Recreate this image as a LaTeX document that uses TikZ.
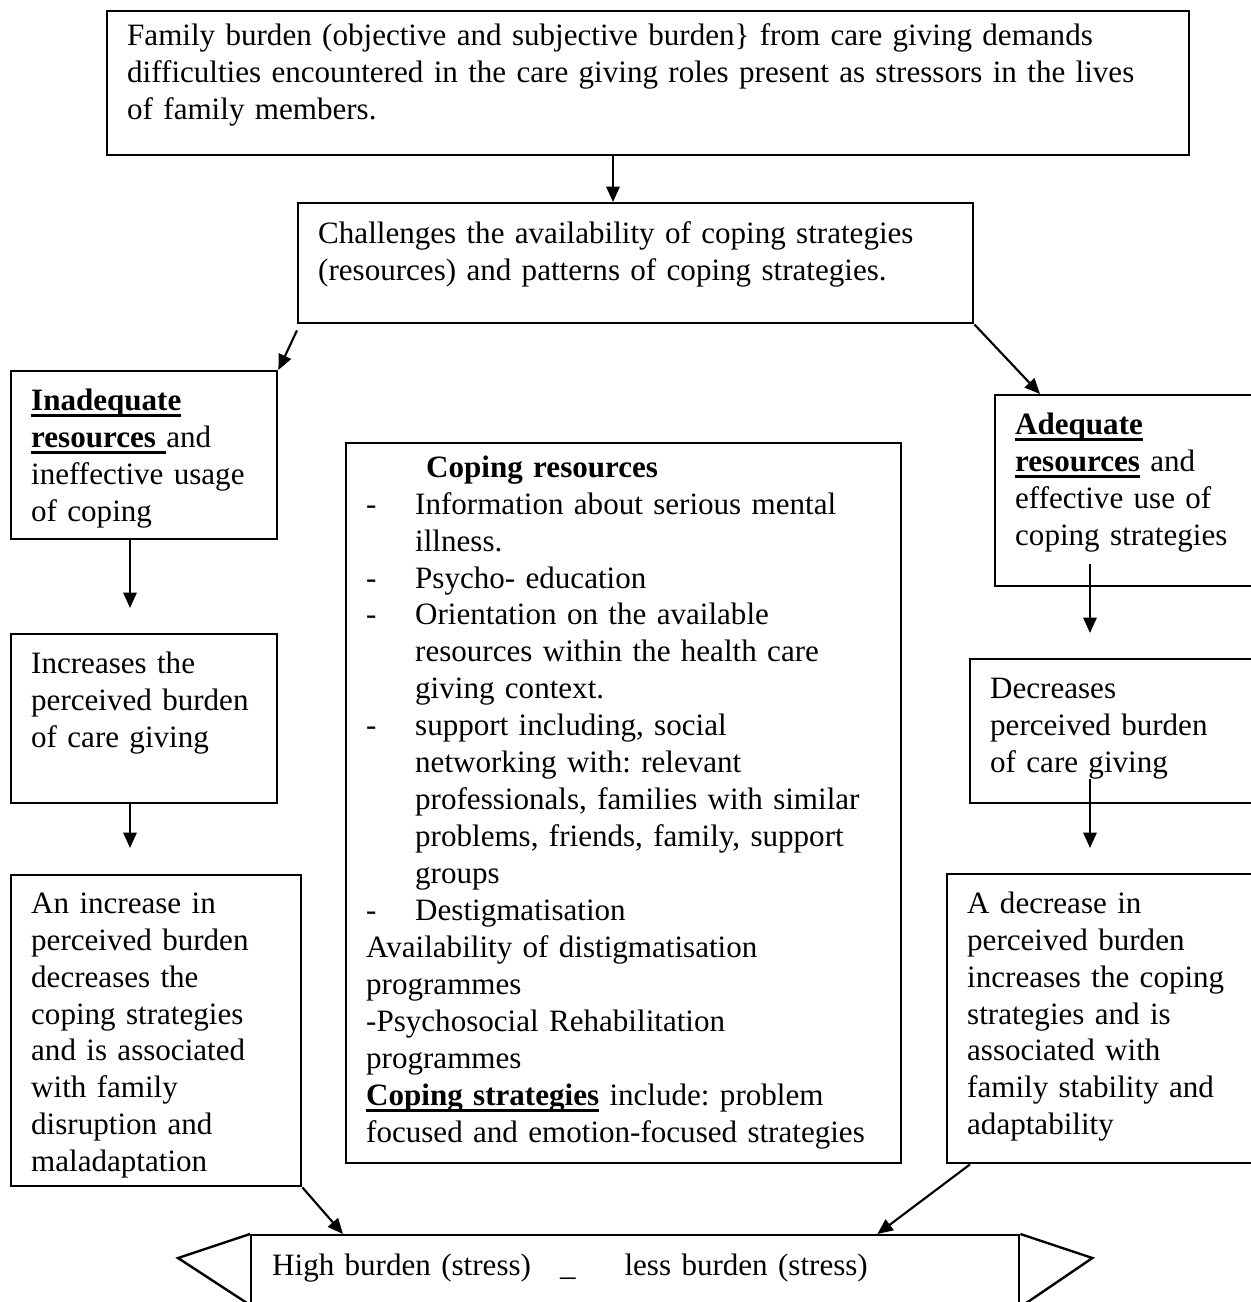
\documentclass[tikz,border=0pt]{standalone}
\usepackage{fontspec}
\setmainfont{Liberation Serif}
\usetikzlibrary{arrows.meta}
\newdimen\px \px=0.375pt
\newcommand{\boldul}[1]{\leavevmode\setbox0\hbox{\textbf{#1}}\rlap{\rule[-2.6pt]{\wd0}{1pt}}\box0\relax}
\newcommand{\dashitem}{\makebox[49\px][l]{-}}
\newcommand{\itemgap}{\hspace*{49\px}}
\frenchspacing
\tikzset{
  box/.style={draw, line width=0.9pt, anchor=north west, align=left,
    inner xsep=20\px, inner ysep=0pt, font=\fontsize{11.65pt}{13.85pt}\selectfont},
  arr/.style={-{Triangle[length=5.8pt,width=5pt]}, line width=0.8pt},
}
\begin{document}
\begin{tikzpicture}[x=0.375pt, y=-0.375pt]
  \useasboundingbox (0,0) rectangle (1251,1302);
  \clip (0,0) rectangle (1251,1302);
  % boxes
  \node[box, text width=1042\px, text height=34\px, text depth=110\px] (top) at (106,10)
    {Family burden (objective and subjective burden\} from care giving demands\\
     difficulties encountered in the care giving roles present as stressors in the lives\\
     of family members.};
  \node[box, text width=635\px, text height=40\px, text depth=80\px] (chal) at (297,202)
    {Challenges the availability of coping strategies\\
     (resources) and patterns of coping strategies.};
  \node[box, text width=226\px, text height=39\px, text depth=129\px] (inad) at (10,370)
    {\boldul{Inadequate}\\ \boldul{resources }and\\ ineffective usage\\ of coping};
  \node[box, text width=226\px, text height=39\px, text depth=130\px] (incr) at (10,633)
    {Increases the\\ perceived burden\\ of care giving};
  \node[box, text width=250\px, text height=38\px, text depth=273\px] (lbot) at (10,874)
    {An increase in\\ perceived burden\\ decreases the\\ coping strategies\\
     and is associated\\ with family\\ disruption and\\ maladaptation};
  \node[box, text width=515\px, text height=34\px, text depth=686\px] (res) at (345,442)
    {\hspace*{60\px}\textbf{Coping resources}\\
     \dashitem Information about serious mental\\
     \itemgap illness.\\
     \dashitem Psycho- education\\
     \dashitem Orientation on the available\\
     \itemgap resources within the health care\\
     \itemgap giving context.\\
     \dashitem support including, social\\
     \itemgap networking with: relevant\\
     \itemgap professionals, families with similar\\
     \itemgap problems, friends, family, support\\
     \itemgap groups\\
     \dashitem Destigmatisation\\
     Availability of distigmatisation\\
     programmes\\
     -Psychosocial Rehabilitation\\
     programmes\\
     \boldul{Coping strategies} include: problem\\
     focused and emotion-focused strategies};
  \node[box, text width=226\px, text height=39\px, text depth=152\px] (adeq) at (994,394)
    {\boldul{Adequate}\\ \boldul{resources} and\\ effective use of\\ coping strategies};
  \node[box, text width=251\px, text height=39\px, text depth=105\px] (decr) at (969,658)
    {Decreases\\ perceived burden\\ of care giving};
  \node[box, text width=274\px, text height=39\px, text depth=250\px] (rbot) at (946,873)
    {A decrease in\\ perceived burden\\ increases the coping\\ strategies and is\\
     associated with\\ family stability and\\ adaptability};
  \node[box, inner xsep=21\px, text width=726\px, text height=40\px, text depth=70\px] (rib) at (250,1234)
    {High burden (stress)\hspace{29\px}\textunderscore\hspace{49\px}less burden (stress)};
  % ribbon ends
  \draw[line width=0.9pt] (rib.north west) -- ++(-72,24) -- ([shift={(0,71)}]rib.north west);
  \draw[line width=0.9pt] (rib.north east) -- ++(72,24) -- ([shift={(0,73)}]rib.north east);
  % arrows
  \coordinate (colL) at (130,0);
  \coordinate (colM) at (613,0);
  \coordinate (colR) at (1090,0);
  \draw[arr] (top.south -| colM) -- (chal.north -| colM);
  \draw[arr] ([shift={(0,6)}]chal.south west) -- (inad.north east);
  \draw[arr] (chal.south east) -- ([shift={(46,0)}]adeq.north west);
  \draw[arr, shorten >=25\px] (inad.south -| colL) -- (incr.north -| colL);
  \draw[arr, shorten >=26\px] (incr.south -| colL) -- (lbot.north -| colL);
  \draw[arr, shorten <=-23\px, shorten >=25\px] (adeq.south -| colR) -- (decr.north -| colR);
  \draw[arr, shorten <=-25\px, shorten >=25\px] (decr.south -| colR) -- (rbot.north -| colR);
  \draw[arr] (lbot.south east) -- ([shift={(93,0)}]rib.north west);
  \draw[arr] ([shift={(24,0)}]rbot.south west) -- ([shift={(-143,0)}]rib.north east);
\end{tikzpicture}
\end{document}
